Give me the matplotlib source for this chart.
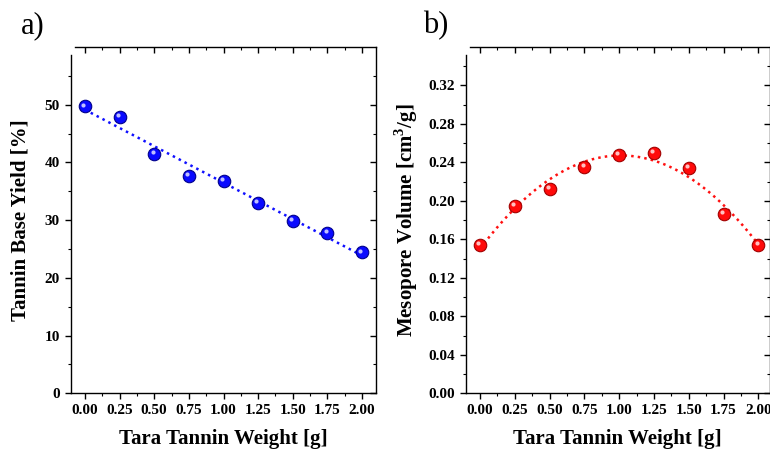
import matplotlib.pyplot as plt
import matplotlib.transforms as mtransforms
import numpy as np

plt.rcParams['font.family'] = ['Liberation Serif', 'DejaVu Serif']
plt.rcParams['mathtext.fontset'] = 'custom'
plt.rcParams['mathtext.rm'] = 'Liberation Serif:bold'
plt.rcParams['mathtext.bf'] = 'Liberation Serif:bold'

# data
weight = [0.00, 0.25, 0.50, 0.75, 1.00, 1.25, 1.50, 1.75, 2.00]
base_yield = [49.7, 47.9, 41.45, 37.7, 36.8, 32.9, 29.9, 27.7, 24.4]
meso_volume = [0.1543, 0.1948, 0.2121, 0.2349, 0.2481, 0.2502, 0.2343, 0.1869, 0.1540]

fig = plt.figure(figsize=(7.7, 4.49), dpi=100)
W, H = 770.0, 449.0


def style_axes(ax, ylim, ymajor, yminor, spine_top, xlim):
    ax.set_xlim(*xlim)
    ax.set_ylim(*ylim)
    ax.set_xticks(np.arange(0, 2.01, 0.25))
    ax.set_xticks(np.arange(0, 2.01, 0.125), minor=True)
    ax.set_yticks(np.arange(0, ylim[1] - 1e-9, ymajor))
    ax.set_yticks(np.arange(0, ylim[1] - 1e-9, yminor), minor=True)
    ax.spines['top'].set_visible(False)
    ax.spines['right'].set_visible(False)
    ax.spines['left'].set_bounds(ylim[0], spine_top)
    for s in ['left', 'bottom']:
        ax.spines[s].set_linewidth(1.0)
    ax.tick_params(which='major', direction='out', length=4, width=1.0, pad=4, labelsize=11)
    ax.tick_params(which='minor', direction='out', length=2.5, width=0.8)
    for lab in ax.get_xticklabels() + ax.get_yticklabels():
        lab.set_fontweight('bold')

    # top axis with inward ticks
    tx = ax.twiny()
    tx.set_xlim(*xlim)
    tx.set_xticks(np.arange(0, 2.01, 0.25))
    tx.set_xticks(np.arange(0, 2.01, 0.125), minor=True)
    tx.tick_params(axis='x', which='major', direction='in', length=4, width=1.0, labeltop=False)
    tx.tick_params(axis='x', which='minor', direction='in', length=2.5, width=0.8)
    for s in ['left', 'right', 'bottom']:
        tx.spines[s].set_visible(False)
    tx.spines['top'].set_bounds(xlim[0] + 0.03, xlim[1])
    tx.spines['top'].set_linewidth(1.0)

    # right axis with inward ticks
    ty = ax.twinx()
    ty.set_ylim(*ylim)
    ty.set_yticks(np.arange(0, ylim[1] - 1e-9, ymajor))
    ty.set_yticks(np.arange(0, ylim[1] - 1e-9, yminor), minor=True)
    ty.tick_params(axis='y', which='major', direction='in', length=4, width=1.0, labelright=False)
    ty.tick_params(axis='y', which='minor', direction='in', length=2.5, width=0.8)
    for s in ['left', 'top', 'bottom']:
        ty.spines[s].set_visible(False)
    ty.spines['right'].set_linewidth(1.0)


def balls(ax, x, y, color, edge):
    ax.plot(x, y, 'o', ms=9, mfc=color, mec=edge, mew=0.8, zorder=5, clip_on=False)
    off = mtransforms.offset_copy(ax.transData, fig=fig, x=-1.2, y=1.4, units='points')
    ax.plot(x, y, 'o', ms=3, mfc='white', mec='none', alpha=0.75, transform=off,
            zorder=6, clip_on=False)


# panel a
ax1 = fig.add_axes([71 / W, 1 - 393.3 / H, (376 - 71) / W, (393.3 - 47) / H])
style_axes(ax1, (0, 60), 10, 5, 58.6, (-0.1, 2.1))
fit1 = np.polyfit(weight, base_yield, 1)
xs = np.linspace(0, 2, 200)
ax1.plot(xs, np.polyval(fit1, xs), ':', color='#1010ff', lw=1.8, zorder=4)
balls(ax1, weight, base_yield, '#0a0aff', '#00008b')
ax1.set_xlabel('Tara Tannin Weight [g]', fontsize=15, fontweight='bold', labelpad=8)
ax1.set_ylabel('Tannin Base Yield [%]', fontsize=15, fontweight='bold', labelpad=10)
fig.text(21 / W, 1 - 26 / H, 'a)', fontsize=22, va='center', ha='left')

# panel b
ax2 = fig.add_axes([466 / W, 1 - 393.3 / H, (769.5 - 466) / W, (393.3 - 47) / H])
style_axes(ax2, (0, 0.36), 0.04, 0.02, 0.352, (-0.1, 2.08))
fit2 = np.polyfit(weight, meso_volume, 2)
ax2.plot(xs, np.polyval(fit2, xs), ':', color='#ff1010', lw=1.8, zorder=4)
balls(ax2, weight, meso_volume, '#ff0a0a', '#a00000')
ax2.set_xlabel('Tara Tannin Weight [g]', fontsize=15, fontweight='bold', labelpad=8)
ax2.set_ylabel(r'Mesopore Volume [cm$^3$/g]', fontsize=15, fontweight='bold', labelpad=6)
fig.text(423 / W, 1 - 26 / H, 'b)', fontsize=22, va='center', ha='left')

fig.savefig('out.png', dpi=100)
